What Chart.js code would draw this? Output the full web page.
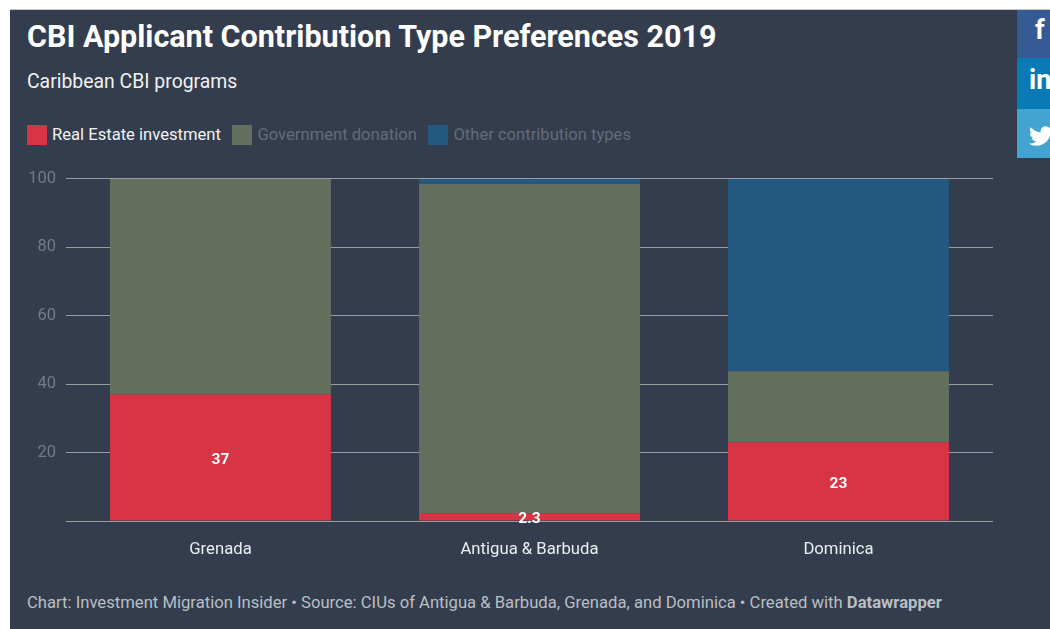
<!DOCTYPE html>
<html>
<head>
<meta charset="utf-8">
<script src="https://cdn.jsdelivr.net/npm/chart.js@4"></script>
<style>
  html, body { margin: 0; height: 100%; overflow: hidden; background: #fff; font-family: Roboto, sans-serif; }
  #panel { position: absolute; left: 10px; top: 10px; width: 1040px; height: 619px; background: #333d4d; box-shadow: 0 -1px 0 #c8c8c8; }
  .txt { position: absolute; left: 17px; white-space: nowrap; }
  #title { top: 9px; font-size: 30.5px; line-height: 36px; font-weight: 700; color: #fff; }
  #subtitle { top: 60px; font-size: 19.4px; line-height: 24px; color: #f1f1f1; }
  #footer { top: 583px; font-size: 16.65px; line-height: 20px; color: #b9bfc5; }
  #footer b { font-weight: 700; }
  #legend { position: absolute; left: 17px; top: 115px; height: 20px; display: flex; font-size: 16.6px; line-height: 20px; white-space: nowrap; }
  #legend span.item { display: flex; margin-right: 11.6px; }
  #legend i { width: 20px; height: 20px; margin-right: 5px; display: block; }
  #chart { position: absolute; left: 0; top: 149px; }
  .share { position: absolute; left: 1007px; width: 33px; overflow: hidden; color: #fff; font-weight: 700; }
  .share span { position: absolute; font-size: 27px; line-height: 30px; }
  .share svg { position: absolute; left: 12px; top: 15px; width: 24px; height: 24px; fill: #fff; }
</style>
</head>
<body>
<div id="panel">
  <div id="title" class="txt">CBI Applicant Contribution Type Preferences 2019</div>
  <div id="subtitle" class="txt">Caribbean CBI programs</div>
  <div id="legend"></div>
  <canvas id="chart" width="1040" height="406"></canvas>
  <div id="footer" class="txt">Chart: Investment Migration Insider • Source: CIUs of Antigua &amp; Barbuda, Grenada, and Dominica • Created with <b>Datawrapper</b></div>
  <div class="share" style="top:0;height:48px;background:#365a94"><span style="left:18px;top:5px">f</span></div>
  <div class="share" style="top:48px;height:51px;background:#0a7ab6"><span style="left:12px;top:7px">in</span></div>
  <div class="share" style="top:99px;height:49px;background:#43a4d1"><svg viewBox="0 0 512 512"><path d="M459.37 151.716c.325 4.548.325 9.097.325 13.645 0 138.72-105.583 298.558-298.558 298.558-59.452 0-114.68-17.219-161.137-47.106 8.447.974 16.568 1.299 25.34 1.299 49.055 0 94.213-16.568 130.274-44.832-46.132-.975-84.792-31.188-98.112-72.772 6.498.974 12.995 1.624 19.818 1.624 9.421 0 18.843-1.3 27.614-3.573-48.081-9.747-84.143-51.98-84.143-102.985v-1.299c13.969 7.797 30.214 12.67 47.431 13.319-28.264-18.843-46.781-51.005-46.781-87.391 0-19.492 5.197-37.36 14.294-52.954 51.655 63.675 129.3 105.258 216.365 109.807-1.624-7.797-2.599-15.918-2.599-24.04 0-57.828 46.782-104.934 104.934-104.934 30.213 0 57.502 12.67 76.67 33.137 23.715-4.548 46.456-13.32 66.599-25.34-7.798 24.366-24.366 44.833-46.132 57.827 21.117-2.273 41.584-8.122 60.426-16.243-14.292 20.791-32.161 39.308-52.628 54.253z"/></svg></div>
</div>
<script>
const categories = ['Grenada', 'Antigua & Barbuda', 'Dominica'];
const realEstate = [37, 2.3, 23];
const donation = [63, 96.2, 20.8];
const other = [0, 1.5, 56.2];
const yTicks = [20, 40, 60, 80, 100];
const seriesNames = ['Real Estate investment', 'Government donation', 'Other contribution types'];
const seriesColors = ['#d73446', '#646f5e', '#235880'];
const legendColors = ['#f2f2f2', '#646c78', '#646c78'];

// white value labels, only the first series has them
const valueLabels = {
  id: 'valueLabels',
  afterDatasetsDraw(chart) {
    const ctx = chart.ctx;
    ctx.save();
    ctx.font = 'bold 15.5px Roboto';
    ctx.fillStyle = '#fff';
    ctx.textAlign = 'center';
    ctx.textBaseline = 'middle';
    chart.getDatasetMeta(0).data.forEach((bar, i) => {
      ctx.fillText(realEstate[i], bar.x, (bar.y + bar.base) / 2 + 2.5);
    });
    ctx.restore();
  },
};

new Chart(document.getElementById('chart').getContext('2d'), {
  type: 'bar',
  data: {
    labels: categories,
    datasets: [realEstate, donation, other].map((values, i) => ({
      label: seriesNames[i],
      data: values,
      backgroundColor: seriesColors[i],
      borderWidth: 0,
      barPercentage: 0.715,
      categoryPercentage: 1,
    })),
  },
  plugins: [valueLabels],
  options: {
    responsive: false,
    animation: false,
    layout: { padding: { left: 17, right: 57, top: 6, bottom: 0 } },
    plugins: { legend: { display: false }, tooltip: { enabled: false } },
    scales: {
      x: {
        stacked: true,
        grid: { display: false },
        border: { display: false },
        ticks: { color: '#eceef0', font: { family: 'Roboto', size: 16.7 }, padding: 11, maxRotation: 0 },
        afterFit(scale) { scale.height = 44; },
      },
      y: {
        stacked: true,
        min: 0,
        max: 100,
        afterBuildTicks(scale) { scale.ticks = [0, ...yTicks].map((value) => ({ value })); },
        grid: { color: '#9a9c9e', lineWidth: 1, drawTicks: false },
        border: { display: false },
        ticks: {
          color: '#747b86',
          font: { family: 'Roboto', size: 16.5 },
          padding: 10,
          callback: (value) => (yTicks.includes(value) ? value : ''),
        },
        afterFit(scale) { scale.width = 39; },
      },
    },
  },
});

const legend = document.getElementById('legend');
seriesNames.forEach((name, i) => {
  const item = document.createElement('span');
  item.className = 'item';
  item.style.color = legendColors[i];
  const box = document.createElement('i');
  box.style.background = seriesColors[i];
  item.appendChild(box);
  item.appendChild(document.createTextNode(name));
  legend.appendChild(item);
});
</script>
</body>
</html>
